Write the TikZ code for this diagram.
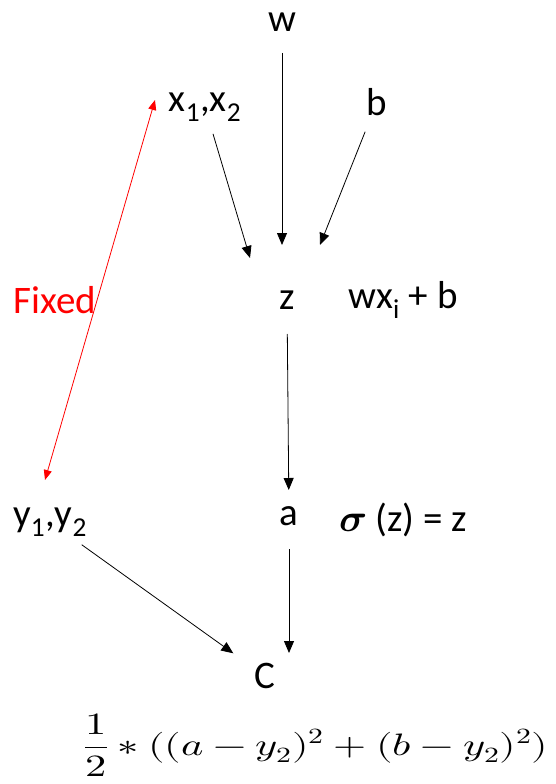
\documentclass[tikz,border=0pt]{standalone}
\usepackage{amsmath}
\usepackage{unicode-math}
\setmainfont{Carlito}
\setmathfont{Latin Modern Math}
\usetikzlibrary{arrows.meta,calc}
\begin{document}
\begin{tikzpicture}[x=1pt,y=-1pt,
    lbl/.style={font=\fontsize{39}{46}\selectfont, inner sep=0pt},
    arr/.style={-{Triangle[length=12pt,width=10pt]}, line width=0.8pt},
    fixarr/.style={{Triangle[length=10pt,width=8pt]}-{Triangle[length=10pt,width=8pt]}, red, line width=0.8pt}]
    \useasboundingbox (0,0) rectangle (555,784);

    % Inputs
    \node[lbl] (w) at (282,22) {w};
    \node[lbl] (x12) at (205,107) {x\textsubscript{1},x\textsubscript{2}};
    \node[lbl] (b) at (377,102) {b};

    % Linear part
    \node[lbl] (z) at (287,300) {z};
    \node[lbl] (zeq) at (403,300) {wx\textsubscript{i} + b};
    \coordinate (zin1) at ($(z)+(-37,-42)$);
    \coordinate (zin2) at ($(z)+(-5,-55)$);
    \coordinate (zin3) at ($(z)+(33,-55)$);

    % Activation
    \node[lbl] (a) at (289,516) {a};
    \node[lbl] (aeq) at (403,520) {$\symbfit{\sigma}$ (z) = z};

    % Targets and cost
    \node[lbl] (y12) at (50,522) {y\textsubscript{1},y\textsubscript{2}};
    \node[lbl] (C) at (265,676) {C};
    \node[lbl, font=\fontsize{31}{37}\selectfont] (cost) at (316,745)
        {\scalebox{1.37}[1]{$\displaystyle\frac{1}{2} * ((a - y_2)^2 + (b - y_2)^2)$}};

    % Fixed link between x and y
    \coordinate (fixtop) at (155,100);
    \coordinate (fixbot) at (45,480);
    \draw[fixarr] (fixbot) -- (fixtop);
    \node[lbl, red] (fixed) at (55,300) {Fixed};

    % Connectors
    \draw[arr, shorten <=31pt] (w.center) -- (zin2);
    \draw[arr, shorten <=28pt] (x12.center) -- (zin1);
    \draw[arr, shorten <=32pt] (b.center) -- (zin3);
    \draw[arr, shorten <=34pt, shorten >=26pt] (z.center) -- (a.center);
    \draw[arr, shorten <=33pt, shorten >=23pt] (a.center) -- (a |- C);
    \draw[arr, shorten <=39pt, shorten >=39pt] (y12.center) -- (C.center);
\end{tikzpicture}
\end{document}
